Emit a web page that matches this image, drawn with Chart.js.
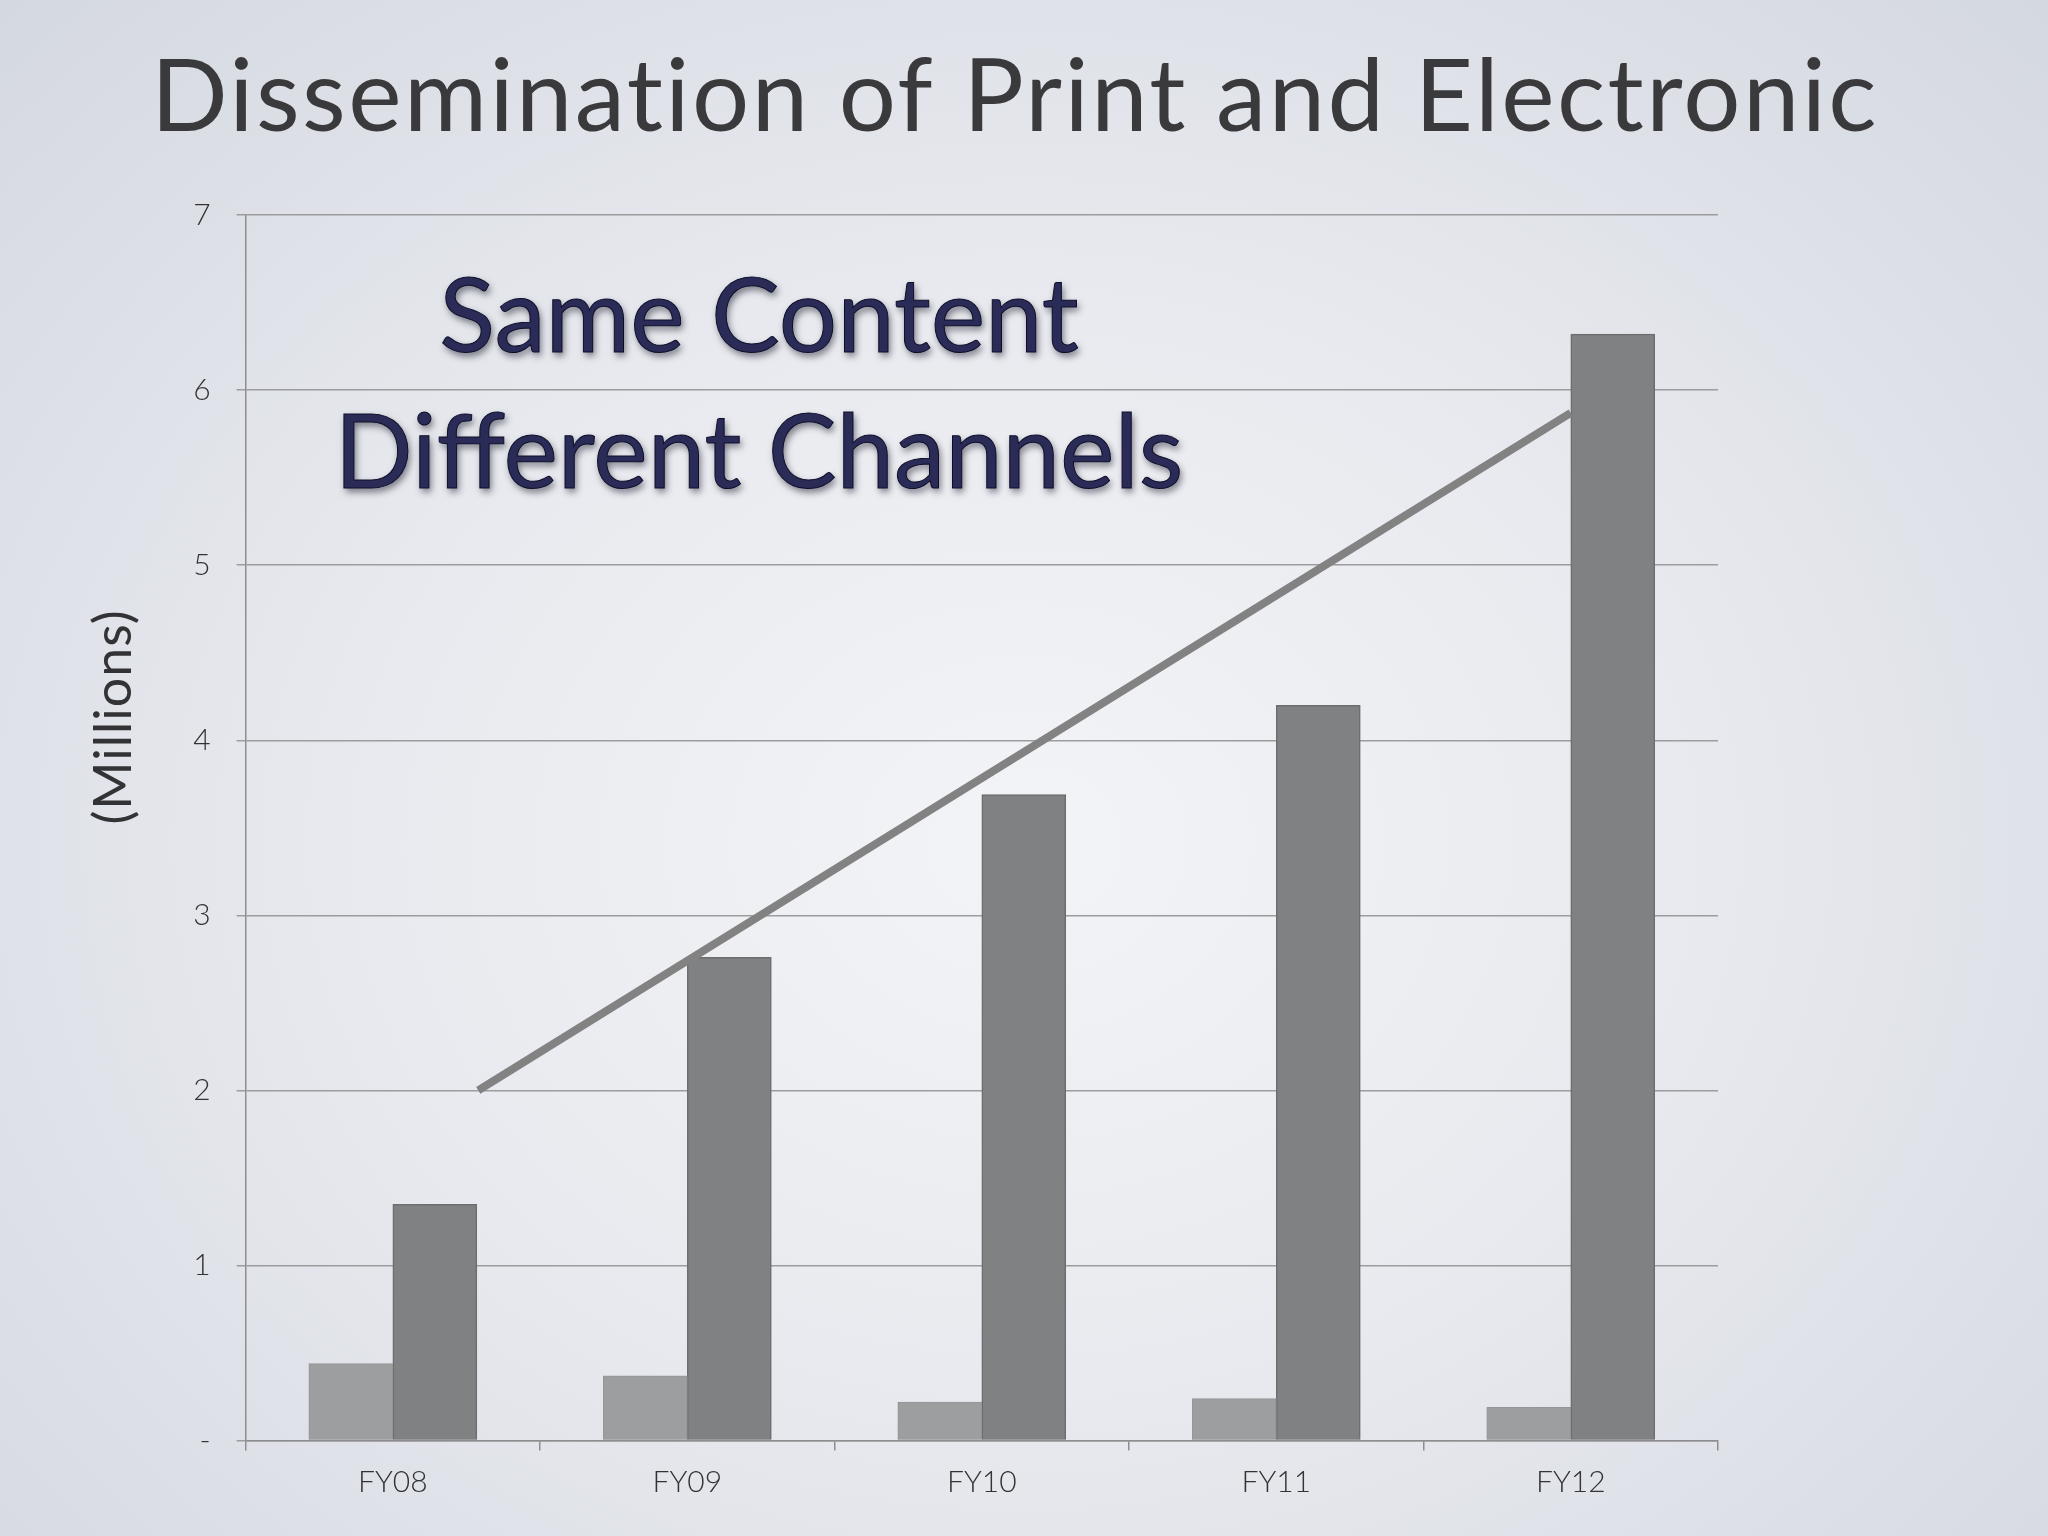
<!DOCTYPE html>
<html>
<head>
<meta charset="utf-8">
<title>Dissemination of Print and Electronic</title>
<script src="https://cdn.jsdelivr.net/npm/chart.js@4.4.1/dist/chart.umd.min.js"></script>
<style>
    html, body { margin: 0; padding: 0; }
    body {
        width: 2048px;
        height: 1536px;
        overflow: hidden;
        background: radial-gradient(ellipse at 50% 55%, #f3f4f7 0%, #e8eaef 45%, #d4d8e0 100%);
    }
    #chartFondo { display: block; }
</style>
</head>
<body>
<canvas id="chartFondo" width="2048" height="1536"></canvas>
<script>
// --- DATA ---
const categories = ['FY08', 'FY09', 'FY10', 'FY11', 'FY12'];
const printValues = [0.44, 0.37, 0.22, 0.24, 0.19];
const electronicValues = [1.35, 2.76, 3.69, 4.20, 6.32];
const yTicks = [0, 1, 2, 3, 4, 5, 6, 7];
// trend annotation (category index, millions)
const trendX = [0.29, 4.0];
const trendY = [2.0, 5.87];

const titleText = 'Dissemination of Print and Electronic';
const noteLines = ['Same Content', 'Different Channels'];
const yAxisLabel = '(Millions)';

// ================= TEXT PLUGIN =================
const textPlugin = {
    id: 'slideText',
    afterDraw(chart) {
        const ctx = chart.ctx;
        ctx.save();

        // main title
        ctx.fillStyle = '#3a3a3c';
        ctx.font = '400 101px Lato';
        ctx.letterSpacing = '2.4px';
        ctx.textAlign = 'center';
        ctx.textBaseline = 'alphabetic';
        ctx.fillText(titleText, 1015, 131);

        // y axis label, rotated
        ctx.save();
        ctx.letterSpacing = '1px';
        ctx.translate(131, 717);
        ctx.rotate(-Math.PI / 2);
        ctx.fillStyle = '#333335';
        ctx.font = '400 52px Lato';
        ctx.fillText(yAxisLabel, 0, 0);
        ctx.restore();

        // "Same Content / Different Channels" with a shadow
        ctx.font = '400 103px Lato';
        ctx.letterSpacing = '0px';
        const baselines = [352, 488];
        noteLines.forEach((line, i) => {
            ctx.shadowColor = 'rgba(0, 0, 20, 0.5)';
            ctx.shadowBlur = 7;
            ctx.shadowOffsetX = 2;
            ctx.shadowOffsetY = 4;
            ctx.fillStyle = '#2b2b58';
            ctx.fillText(line, 759, baselines[i]);
            ctx.shadowColor = 'transparent';
            ctx.lineWidth = 1;
            ctx.strokeStyle = '#0d0d28';
            ctx.strokeText(line, 759, baselines[i]);
        });

        ctx.restore();
    }
};

// ================= CHART =================
const ctxChart = document.getElementById('chartFondo').getContext('2d');

const chart = new Chart(ctxChart, {
    type: 'bar',
    data: {
        labels: categories,
        datasets: [
            {
                type: 'line',
                label: 'Trend',
                data: trendX.map((x, i) => ({ x: x, y: trendY[i] })),
                xAxisID: 'xLine',
                borderColor: '#828283',
                borderWidth: 8,
                borderCapStyle: 'butt',
                pointRadius: 0,
                fill: false,
                order: 0
            },
            {
                label: 'Print',
                data: printValues,
                backgroundColor: '#9d9e9f',
                borderColor: '#949596',
                borderWidth: 1,
                barThickness: 84,
                order: 1
            },
            {
                label: 'Electronic',
                data: electronicValues,
                backgroundColor: '#808183',
                borderColor: '#6c6d6f',
                borderWidth: 1.5,
                barThickness: 84,
                order: 1
            }
        ]
    },
    options: {
        responsive: false,
        devicePixelRatio: 1,
        animation: false,
        layout: { padding: { top: 215, right: 330, bottom: 0, left: 0 } },
        plugins: {
            legend: { display: false },
            tooltip: { enabled: false }
        },
        scales: {
            x: {
                type: 'category',
                offset: true,
                grid: {
                    offset: true,
                    drawOnChartArea: false,
                    color: '#8e8e90',
                    lineWidth: 1.5,
                    tickLength: 10
                },
                border: { color: '#8e8e90', width: 1.5 },
                ticks: {
                    color: '#333',
                    font: { family: 'Lato', size: 30, weight: '300' },
                    padding: 14
                },
                afterFit(scale) { scale.height = 95.4; }
            },
            xLine: {
                type: 'linear',
                display: false,
                offset: false,
                min: -0.5,
                max: 4.5
            },
            y: {
                min: 0,
                max: 7,
                afterBuildTicks(scale) {
                    scale.ticks = yTicks.map(v => ({ value: v }));
                },
                grid: {
                    color: '#9c9c9e',
                    lineWidth: 1.5,
                    tickLength: 9
                },
                border: { color: '#8e8e90', width: 1.5 },
                ticks: {
                    color: '#333',
                    font: { family: 'Lato', size: 30, weight: '300' },
                    padding: 26,
                    callback: (v) => v === 0 ? '-' : String(v)
                },
                afterFit(scale) { scale.width = 245.6; }
            }
        }
    },
    plugins: [textPlugin]
});
</script>
</body>
</html>
